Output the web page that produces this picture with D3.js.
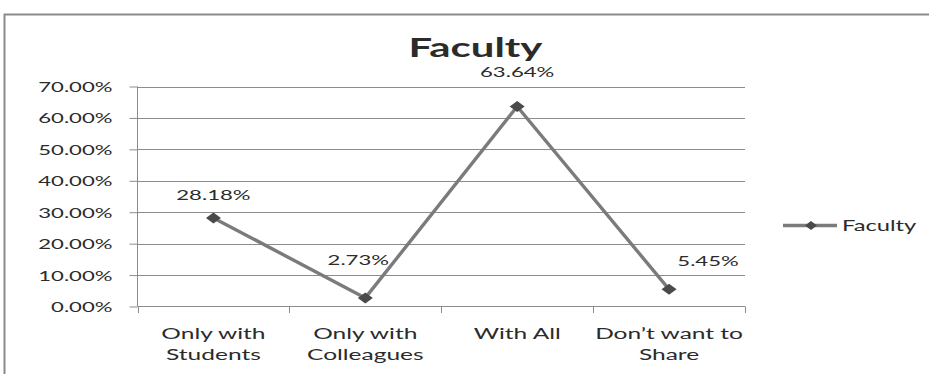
<!DOCTYPE html>
<html>
<head>
<meta charset="utf-8">
<script src="https://cdn.jsdelivr.net/npm/d3@7"></script>
<style>
  html, body { margin: 0; padding: 0; background: #fff; }
  svg { display: block; }
  text { font-family: Lato, "Open Sans", sans-serif; fill: #2b2b2b; }
</style>
</head>
<body>
<svg id="chart" width="929" height="374"></svg>
<script>
// Share of faculty by who they are willing to share with
const categories = ["Only with\nStudents", "Only with\nColleagues", "With All", "Don’t want to\nShare"];
const values = [28.18, 2.73, 63.64, 5.45];
const yTicks = [0, 10, 20, 30, 40, 50, 60, 70];
const seriesName = "Faculty";
// pixel nudges for the value labels (dx, dy relative to the marker)
const labelNudge = [[0, -18], [-7, -33], [0, -29], [39, -23]];

const STRETCH = 1.58; // horizontal widening of all lettering
const svg = d3.select("#chart");

function widen(sel) {
  sel.each(function () {
    const len = this.getComputedTextLength();
    if (len > 0) {
      d3.select(this).attr("textLength", len * STRETCH).attr("lengthAdjust", "spacingAndGlyphs");
    }
  });
  return sel;
}

// outer frame
svg.append("path")
  .attr("d", "M4.5,374 V14.5 H929")
  .attr("fill", "none").attr("stroke", "#8a8a8a").attr("stroke-width", 2);

const x = d3.scaleBand().domain(categories).range([137.5, 745]).padding(0);
const y = d3.scaleLinear().domain([0, 70]).range([306.5, 86.5]);

// gridlines
svg.append("g").selectAll("line").data(yTicks.filter(d => d > 0)).join("line")
  .attr("x1", 137.5).attr("x2", 745)
  .attr("y1", d => Math.round(y(d)) + 0.5).attr("y2", d => Math.round(y(d)) + 0.5)
  .attr("stroke", "#8c8c8c").attr("stroke-width", 1);

// y axis
const yAxis = svg.append("g").attr("transform", "translate(137.5,0)")
  .call(d3.axisLeft(y).tickValues(yTicks).tickSize(8).tickPadding(17)
    .tickFormat(d => d.toFixed(2) + "%"));
yAxis.select(".domain").attr("stroke", "#8c8c8c").attr("d", `M0,${y(70)}V${y(0)}`);
yAxis.selectAll(".tick line").attr("stroke", "#8c8c8c");
yAxis.selectAll(".tick text").attr("font-size", 14).attr("font-family", "Lato").attr("fill", "#2b2b2b")
  .attr("dy", "0.36em").attr("x", -25).attr("text-anchor", "end");
widen(yAxis.selectAll(".tick text"));

// x axis: baseline, boundary ticks and two-line category labels
const xg = svg.append("g");
xg.append("line").attr("x1", 137.5).attr("x2", 745).attr("y1", 306.5).attr("y2", 306.5)
  .attr("stroke", "#8c8c8c");
const bounds = categories.map(c => x(c)).concat([x.range()[1]]);
xg.selectAll("line.tk").data(bounds).join("line").attr("class", "tk")
  .attr("x1", d => Math.round(d) + 0.5).attr("x2", d => Math.round(d) + 0.5)
  .attr("y1", 306.5).attr("y2", 313).attr("stroke", "#8c8c8c");
const catText = xg.selectAll("text.cat").data(categories).join("text").attr("class", "cat")
  .attr("text-anchor", "middle").attr("font-size", 15.5)
  .attr("transform", d => `translate(${x(d) + x.bandwidth() / 2},339)`);
catText.each(function (d) {
  d.split("\n").forEach((ln, i) => {
    d3.select(this).append("tspan").attr("x", 0).attr("y", i * 21).text(ln);
  });
});
catText.selectAll("tspan").each(function () {
  const len = this.getComputedTextLength();
  d3.select(this).attr("textLength", len * STRETCH).attr("lengthAdjust", "spacingAndGlyphs");
});

// series line
const pts = categories.map((c, i) => [x(c) + x.bandwidth() / 2, y(values[i])]);
svg.append("path").datum(pts)
  .attr("d", d3.line())
  .attr("fill", "none").attr("stroke", "#7b7b7b").attr("stroke-width", 3.4)
  .attr("stroke-linejoin", "round");

const diamond = (w, h) => `M0,${-h}L${w},0L0,${h}L${-w},0Z`;
svg.append("g").selectAll("path").data(pts).join("path")
  .attr("transform", d => `translate(${d[0]},${d[1]})`)
  .attr("d", diamond(7.5, 5.5)).attr("fill", "#4a4a4a");

// value labels
widen(svg.append("g").selectAll("text").data(values).join("text")
  .attr("x", (d, i) => pts[i][0] + labelNudge[i][0])
  .attr("y", (d, i) => pts[i][1] + labelNudge[i][1])
  .attr("text-anchor", "middle").attr("font-size", 14)
  .text(d => d.toFixed(2) + "%"));

// title
widen(svg.append("text").attr("x", 475.5).attr("y", 57).attr("text-anchor", "middle")
  .attr("font-size", 26.5).attr("font-weight", "bold").attr("fill", "#000").text(seriesName));

// legend
const lg = svg.append("g").attr("transform", "translate(783,225.5)");
lg.append("line").attr("x1", 0).attr("x2", 54).attr("stroke", "#7b7b7b").attr("stroke-width", 3.4);
lg.append("path").attr("transform", "translate(28,0)").attr("d", diamond(6, 4.5)).attr("fill", "#4a4a4a");
widen(lg.append("text").attr("x", 59).attr("y", 5).attr("font-size", 15).text(seriesName));
</script>
</body>
</html>
